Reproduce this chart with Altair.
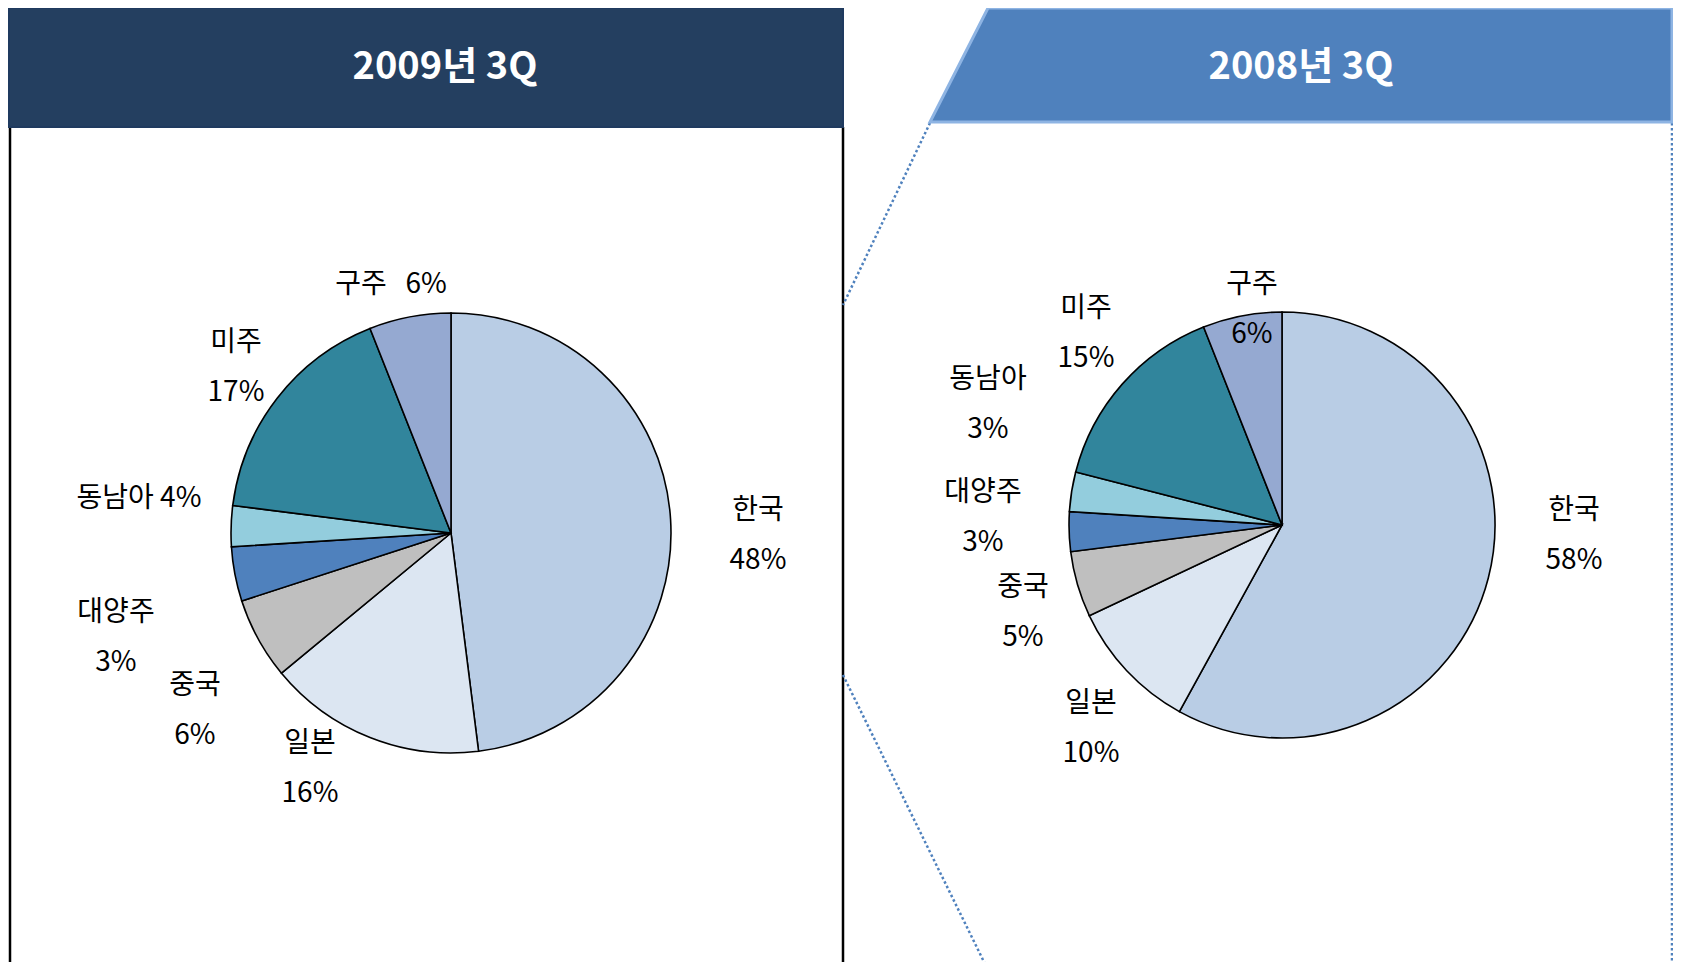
import altair as alt
import pandas as pd

# ---- data ----
regions = ["한국", "일본", "중국", "동남아", "대양주", "미주", "구주"]
share_2009 = [48, 16, 6, 4, 3, 17, 6]
share_2008 = [58, 10, 5, 3, 3, 15, 6]
label_2009 = ["한국\n48%", "일본\n16%", "중국\n6%", "동남아 4%", "대양주\n3%", "미주\n17%", "구주\u00a0\u00a0\u00a06%"]
label_2008 = ["한국\n58%", "일본\n10%", "중국\n5%", "동남아\n3%", "대양주\n3%", "미주\n15%", "구주\n6%"]
titles = ["2009년 3Q", "2008년 3Q"]
colors = ["#B9CDE5", "#DCE6F2", "#BFBFBF", "#4F81BD", "#93CDDD", "#31859C", "#95A9D1"]

# ---- layout (pixels in chart space) ----
W, H = 1665, 954
FONT = "Noto Sans CJK KR"
pies = {
    "2009": dict(cx=443, cy=525, r=220),
    "2008": dict(cx=1274, cy=517, r=213),
}
LABEL_SHIFT = 4
# first-line label offsets from pie centre (layout only)
off_2009 = [(307, -26), (-141, 207), (-256, 149), (-312, -38), (-335, 76), (-215, -194), (-60, -252)]
off_2008 = [(292, -18), (-191, 175), (-259, 59), (-294, -149), (-299, -36), (-196, -220), (-30, -244)]


def pie_frame(key, shares, labels, offs):
    p = pies[key]
    return pd.DataFrame({
        "region": regions,
        "value": shares,
        "idx": list(range(len(regions))),
        "label": labels,
        "lx": [p["cx"] + o[0] for o in offs],
        "ly": [p["cy"] + o[1] + LABEL_SHIFT for o in offs],
    })


df09 = pie_frame("2009", share_2009, label_2009, off_2009)
df08 = pie_frame("2008", share_2008, label_2008, off_2008)

color = alt.Color("region:N", scale=alt.Scale(domain=regions, range=colors), legend=None)


def pie_layers(df, key):
    p = pies[key]
    arc = alt.Chart(df).mark_arc(outerRadius=p["r"], stroke="black", strokeWidth=1.6).encode(
        theta=alt.Theta("value:Q", stack=True),
        color=color,
        order=alt.Order("idx:Q"),
        x=alt.value(p["cx"]),
        y=alt.value(p["cy"]),
    )
    txt = alt.Chart(df).mark_text(
        font=FONT, fontSize=28, lineBreak="\n", lineHeight=50,
        align="center", baseline="middle", color="black"
    ).encode(
        x=alt.X("lx:Q", scale=None, axis=None),
        y=alt.Y("ly:Q", scale=None, axis=None),
        text="label:N",
    )
    return [arc, txt]


# decorations
left_header = alt.Chart(pd.DataFrame({"a": [0]})).mark_rect(
    fill="#243F60", stroke="#1F3A5F", strokeWidth=2
).encode(x=alt.value(1), x2=alt.value(835), y=alt.value(0), y2=alt.value(119))

right_header = alt.Chart(pd.DataFrame({
    "y": [0, 114], "x": [980, 922], "x2": [1664, 1664]
})).mark_area(orient="horizontal", fill="#4F81BD", stroke="#8EB4E3", strokeWidth=3).encode(
    y=alt.Y("y:Q", scale=None, axis=None),
    x=alt.X("x:Q", scale=None, axis=None),
    x2="x2:Q",
)

title_df = pd.DataFrame({"t": titles, "tx": [437, 1293], "ty": [60, 60]})
title_txt = alt.Chart(title_df).mark_text(
    font=FONT, fontSize=38, fontWeight="bold", color="white", align="center", baseline="middle"
).encode(x=alt.X("tx:Q", scale=None, axis=None), y=alt.Y("ty:Q", scale=None, axis=None), text="t:N")

solid_rules = alt.Chart(pd.DataFrame({
    "x": [2, 835], "y": [119, 119], "x2": [2, 835], "y2": [H, H]
})).mark_rule(color="black", strokeWidth=2.5).encode(
    x=alt.X("x:Q", scale=None, axis=None), y=alt.Y("y:Q", scale=None, axis=None), x2="x2:Q", y2="y2:Q"
)

dotted_rules = alt.Chart(pd.DataFrame({
    "x": [922, 835, 1664], "y": [115, 667, 115], "x2": [835, 980, 1664], "y2": [297, 962, H]
})).mark_rule(color="#4F81BD", strokeWidth=2.5, strokeDash=[2.5, 2.5]).encode(
    x=alt.X("x:Q", scale=None, axis=None), y=alt.Y("y:Q", scale=None, axis=None), x2="x2:Q", y2="y2:Q"
)

layers = [solid_rules, dotted_rules, left_header, right_header, title_txt]
layers += pie_layers(df09, "2009")
layers += pie_layers(df08, "2008")

chart = alt.layer(*layers).properties(
    width=W, height=H, padding=0,
    autosize=alt.AutoSizeParams(type="none"),
).configure(background="white", view=alt.ViewConfig(stroke=None))

chart.save("out.html", embed_options={"renderer": "svg", "actions": False})
